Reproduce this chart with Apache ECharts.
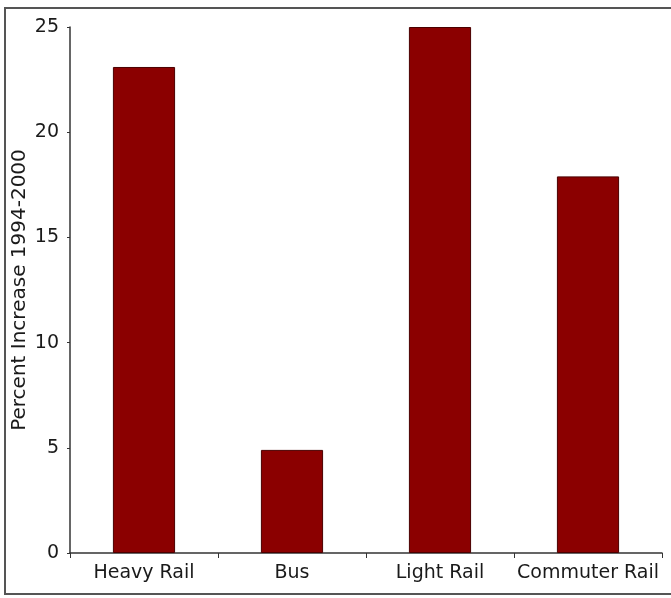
<!DOCTYPE html>
<html>
<head>
<meta charset="utf-8">
<script src="https://cdn.jsdelivr.net/npm/echarts@6/dist/echarts.min.js"></script>
<style>
  html, body { margin: 0; padding: 0; background: #fff; }
  #main { width: 671px; height: 598px; }
</style>
</head>
<body>
<div id="main"></div>
<script>
var categories = ['Heavy Rail', 'Bus', 'Light Rail', 'Commuter Rail'];
var increase = [23.1, 4.9, 25, 17.9];
var yTicks = [0, 5, 10, 15, 20, 25];

var myChart = echarts.init(document.getElementById('main'));
var option = {
	backgroundColor: '#fff',
	textStyle: { fontFamily: 'DejaVu Sans' },
	animation: false,
	graphic: [{
		type: 'rect',
		shape: { x: 5, y: 8, width: 680, height: 586 },
		style: { fill: 'none', stroke: '#555', lineWidth: 2 },
		silent: true
	}],
	grid: { left: 70, right: 9, top: 27, bottom: 45, outerBoundsMode: 'none', containLabel: false },
	xAxis: {
		type: 'category',
		data: categories,
		axisLine: { lineStyle: { color: '#333', width: 1.5 } },
		axisTick: { show: true, interval: 0, length: 5, alignWithLabel: false, lineStyle: { color: '#333' } },
		axisLabel: { color: '#1a1a1a', fontSize: 19, margin: 11, interval: 0, hideOverlap: false }
	},
	yAxis: {
		type: 'value',
		min: yTicks[0],
		max: yTicks[yTicks.length - 1],
		interval: 5,
		name: 'Percent Increase 1994-2000',
		nameLocation: 'middle',
		nameGap: 40,
		nameMoveOverlap: false,
		nameTextStyle: { color: '#1a1a1a', fontSize: 20 },
		axisLine: { show: true, lineStyle: { color: '#333', width: 1.5 } },
		axisTick: { show: true, length: 3, lineStyle: { color: '#333' } },
		axisLabel: { color: '#1a1a1a', fontSize: 19, margin: 11 },
		splitLine: { show: false }
	},
	series: [{
		type: 'bar',
		data: increase,
		barWidth: '42%',
		itemStyle: { color: '#8b0000', borderColor: '#4a0000', borderWidth: 1 }
	}]
};
myChart.setOption(option, true);
</script>
</body>
</html>
